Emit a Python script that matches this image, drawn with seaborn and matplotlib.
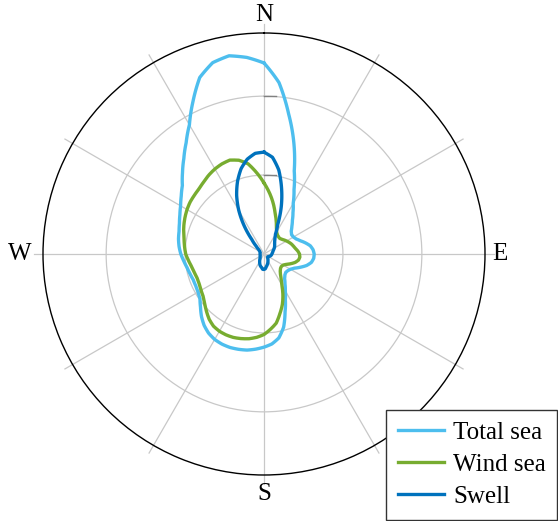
import numpy as np
import pandas as pd
import matplotlib
matplotlib.use("Agg")
import matplotlib.pyplot as plt
import seaborn as sns
from matplotlib.lines import Line2D

# Directions (degrees, clockwise from North)
directions = list(range(0, 360, 5))

total_sea = [1.21, 1.09, 0.90, 0.73, 0.56, 0.45, 0.37, 0.32, 0.28, 0.25,
             0.225, 0.213, 0.215, 0.225, 0.245, 0.272, 0.298, 0.312, 0.318, 0.316,
             0.305, 0.28, 0.245, 0.212, 0.193, 0.184, 0.18, 0.187, 0.203, 0.232,
             0.27, 0.32, 0.39, 0.48, 0.54, 0.572, 0.59, 0.605, 0.618, 0.625,
             0.63, 0.63, 0.625, 0.612, 0.59, 0.56, 0.525, 0.495, 0.482, 0.477,
             0.477, 0.485, 0.495, 0.51, 0.527, 0.54, 0.55, 0.557, 0.57, 0.588,
             0.61, 0.64, 0.675, 0.73, 0.79, 0.86, 0.945, 1.065, 1.19, 1.255,
             1.275, 1.25]

wind_sea = [0.45, 0.39, 0.33, 0.27, 0.225, 0.185, 0.16, 0.148, 0.142, 0.14,
            0.145, 0.155, 0.165, 0.175, 0.185, 0.193, 0.202, 0.215, 0.225, 0.228,
            0.222, 0.205, 0.18, 0.155, 0.14, 0.135, 0.137, 0.145, 0.16, 0.188,
            0.225, 0.283, 0.34, 0.39, 0.445, 0.478, 0.51, 0.53, 0.545, 0.555,
            0.563, 0.566, 0.565, 0.558, 0.54, 0.515, 0.49, 0.47, 0.46, 0.452,
            0.45, 0.456, 0.465, 0.48, 0.496, 0.505, 0.514, 0.527, 0.54, 0.552,
            0.563, 0.572, 0.577, 0.583, 0.595, 0.61, 0.622, 0.63, 0.633, 0.615,
            0.58, 0.515]

swell = [0.645, 0.615, 0.54, 0.43, 0.32, 0.205, 0.145, 0.12, 0.105, 0.095,
         0.088, 0.082, 0.075, 0.068, 0.062, 0.058, 0.055, 0.052, 0.05, 0.048,
         0.046, 0.043, 0.04, 0.036, 0.032, 0.03, 0.03, 0.033, 0.038, 0.044,
         0.05, 0.058, 0.066, 0.074, 0.082, 0.094, 0.098, 0.097, 0.087, 0.081,
         0.074, 0.064, 0.055, 0.047, 0.04, 0.035, 0.032, 0.03, 0.028, 0.027,
         0.026, 0.025, 0.025, 0.025, 0.025, 0.025, 0.025, 0.025, 0.026, 0.028,
         0.03, 0.035, 0.045, 0.07, 0.12, 0.22, 0.32, 0.41, 0.49, 0.56,
         0.61, 0.64]

series_names = ["Total sea", "Wind sea", "Swell"]
series_colors = ["#4DBEEE", "#77AC30", "#0072BD"]
cardinal_labels = ["N", "E", "S", "W"]
cardinal_dirs = [0, 90, 180, 270]
r_ticks = [0.5, 1.0]
r_max = 1.4

# Long-format table (each curve closed by repeating its first point at 360 deg)
rows = []
for name, vals in zip(series_names, [total_sea, wind_sea, swell]):
    for d, v in list(zip(directions, vals)) + [(360, vals[0])]:
        rows.append({"theta": np.deg2rad(d), "r": v, "series": name})
df = pd.DataFrame(rows)

plt.rcParams["font.family"] = ["Liberation Serif", "DejaVu Serif"]

fig = plt.figure(figsize=(5.58, 5.21), dpi=100)
W, H = 558, 521
cx, cy, R = 264, 254, 221
ax = fig.add_axes([(cx - R) / W, (H - cy - R) / H, 2 * R / W, 2 * R / H],
                  projection="polar")
ax.set_theta_zero_location("N")
ax.set_theta_direction(-1)

sns.lineplot(data=df, x="theta", y="r", hue="series", hue_order=series_names,
             palette=series_colors, sort=False, estimator=None, linewidth=2.4,
             ax=ax, legend=False, zorder=5, solid_joinstyle="round")
# draw segments as polar arcs (linear in angle and radius) rather than chords
for ln in ax.get_lines():
    ln.get_path()._interpolation_steps = 16

ax.set_ylim(0, r_max)
ax.set_yticks(r_ticks)
ax.set_yticklabels([])
ax.set_xticks(np.deg2rad(np.arange(0, 360, 30)))
ax.set_xticklabels([])
ax.set_xlabel("")
ax.set_ylabel("")
ax.xaxis.grid(False)
ax.yaxis.grid(True, color="#c8c8c8", linewidth=0.9)
ax.tick_params(length=0)
ax.spines["polar"].set_color("black")
ax.spines["polar"].set_linewidth(1.0)

# Spoke lines extending slightly beyond the outer circle
for a in range(0, 360, 30):
    ax.plot([np.deg2rad(a), np.deg2rad(a)], [0, r_max * 1.04], color="#c8c8c8",
            linewidth=0.9, clip_on=False, zorder=1)

# Small radial tick marks at the top of each grid circle
px_per_unit = R / r_max
for rt in r_ticks:
    rp = rt * px_per_unit
    th = np.arctan2(12, rp)
    ax.plot([0, th], [rt, rt / np.cos(th)], color="#808080", linewidth=1.0,
            zorder=2)

# Cardinal labels
offsets = {"N": 1.083, "E": 1.068, "S": 1.085, "W": 1.104}
for lab, d in zip(cardinal_labels, cardinal_dirs):
    ax.text(np.deg2rad(d), r_max * offsets[lab], lab, ha="center", va="center",
            fontsize=18, clip_on=False)

# Legend
handles = [Line2D([], [], color=c, linewidth=2.4) for c in series_colors]
leg = fig.legend(handles, series_names, loc="lower right",
                 bbox_to_anchor=(0.999, 0.002), bbox_transform=fig.transFigure,
                 fontsize=18, frameon=True, fancybox=False, framealpha=1,
                 edgecolor="#333333", handlelength=1.84, handletextpad=0.36,
                 labelspacing=0.38, borderpad=0.47, borderaxespad=0)
leg.get_frame().set_linewidth(1.0)

fig.savefig("out.png", dpi=100)
